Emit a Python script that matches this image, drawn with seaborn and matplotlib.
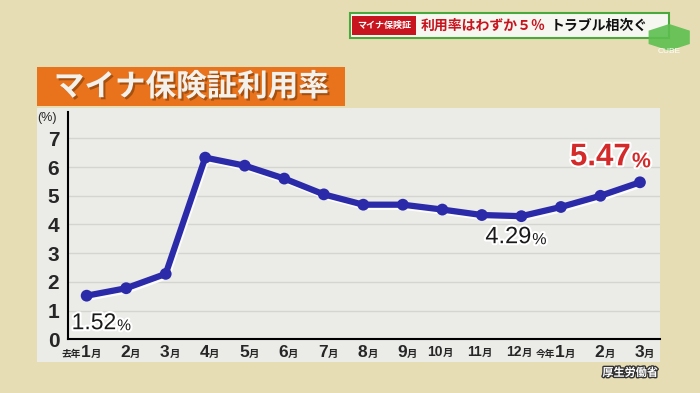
import matplotlib
matplotlib.use("Agg")
import matplotlib.pyplot as plt
import matplotlib.patches as mpatches
import matplotlib.patheffects as pe
import pandas as pd
import seaborn as sns

# データ
months = ["1", "2", "3", "4", "5", "6", "7", "8", "9", "10", "11", "12", "1", "2", "3"]
prefixes = ["去年", "", "", "", "", "", "", "", "", "", "", "", "今年", "", ""]
rates = [1.52, 1.78, 2.28, 6.33, 6.05, 5.60, 5.05, 4.69, 4.69, 4.52, 4.33, 4.29, 4.61, 5.00, 5.47]
y_ticks = [0, 1, 2, 3, 4, 5, 6, 7]

title = "マイナ保険証利用率"
source = "厚生労働省"

df = pd.DataFrame({"idx": range(len(rates)), "rate": rates})

sns.set_style("white")
plt.rcParams["font.family"] = ["Liberation Sans", "Noto Sans CJK JP", "DejaVu Sans"]
JP = ["Noto Sans CJK JP", "DejaVu Sans"]

fig = plt.figure(figsize=(7, 3.93), dpi=100)
fig.patch.set_facecolor("#e7ddb5")

# グラフの背景パネル
fig.add_artist(mpatches.Rectangle((0.053, 0.079), 0.89, 0.646, transform=fig.transFigure,
                                  facecolor="#ebebe8", edgecolor="none", zorder=0))

# タイトルボックス
fig.add_artist(mpatches.Rectangle((0.053, 0.730), 0.44, 0.099, transform=fig.transFigure,
                                  facecolor="#e8731c", edgecolor="none", zorder=1))
fig.text(0.273, 0.779, title, ha="center", va="center", fontsize=22, fontweight="bold",
         color="#f3f1ec", family=JP,
         path_effects=[pe.withSimplePatchShadow(offset=(1.5, -1.5), shadow_rgbFace="#7a3a08", alpha=0.6)])

# 上部のテロップ
fig.add_artist(mpatches.Rectangle((0.500, 0.904), 0.455, 0.062, transform=fig.transFigure,
                                  facecolor="#f7f7f2", edgecolor="#4aa83c", linewidth=1.5, zorder=1))
fig.add_artist(mpatches.Rectangle((0.503, 0.910), 0.091, 0.050, transform=fig.transFigure,
                                  facecolor="#c8141e", edgecolor="none", zorder=2))
fig.text(0.5485, 0.935, "マイナ保険証", ha="center", va="center", fontsize=6.5, fontweight="bold",
         color="white", family=JP, zorder=3)
fig.text(0.601, 0.935, "利用率はわずか５％", ha="left", va="center", fontsize=10, fontweight="bold",
         color="#c8141e", family=JP, zorder=3)
fig.text(0.787, 0.935, "トラブル相次ぐ", ha="left", va="center", fontsize=10, fontweight="bold",
         color="#111111", family=JP, zorder=3)
hexagon = mpatches.RegularPolygon((0.956, 0.905), numVertices=6, radius=0.034,
                                  transform=fig.transFigure, facecolor="#5cbf4f",
                                  edgecolor="none", alpha=0.9, zorder=4)
fig.add_artist(hexagon)
fig.text(0.956, 0.868, "CUBE", ha="center", va="center", fontsize=6, color="white", zorder=5)

# メインのグラフ
ax = fig.add_axes([0.0967, 0.1366, 0.8463, 0.5792])
ax.set_facecolor("none")
sns.lineplot(data=df, x="idx", y="rate", ax=ax, color="#2b2aa8", linewidth=4.5,
             marker="o", markersize=8.5, markeredgewidth=0, zorder=5,
             path_effects=[pe.SimpleLineShadow(offset=(1, -1.5), shadow_color="white", alpha=0.9),
                           pe.Normal()])

ax.set_xlim(-0.48, 14.51)
ax.set_ylim(0, 7.93)
ax.set_xticks(range(len(months)))
ax.set_yticks(y_ticks)
ax.set_yticklabels([str(v) for v in y_ticks], fontsize=15, fontweight="bold")
ax.set_xlabel("")
ax.set_ylabel("")
ax.grid(axis="y", color="#d4d4d0", linewidth=1)
for side in ["top", "right"]:
    ax.spines[side].set_visible(False)
for side in ["left", "bottom"]:
    ax.spines[side].set_color("black")
    ax.spines[side].set_linewidth(1.5)
ax.tick_params(axis="x", direction="in", length=7, width=1.2, color="black", labelbottom=False)
ax.tick_params(axis="y", length=0, pad=6)

# x軸ラベル（数字は大きく、「月」は小さく）
for i, (m, p) in enumerate(zip(months, prefixes)):
    size = 12.5 if len(m) == 1 else 10
    shift = 4 if len(m) == 1 else 0
    num = ax.annotate(m, xy=(i, 0), xycoords=("data", "axes fraction"), xytext=(shift, -6),
                      textcoords="offset pixels", ha="right", va="top", fontsize=size,
                      fontweight="bold")
    ax.annotate("月", xy=(1, 0), xycoords=num, xytext=(0, 1), textcoords="offset pixels",
                ha="left", va="bottom", fontsize=7.5, fontweight="bold", family=JP)
    if p:
        ax.annotate(p, xy=(0, 0), xycoords=num, xytext=(0, 1), textcoords="offset pixels",
                    ha="right", va="bottom", fontsize=7, fontweight="bold", family=JP)

fig.text(0.053, 0.700, "(%)", ha="left", va="center", fontsize=9)

# 値のラベル
glow = [pe.withStroke(linewidth=3, foreground="white")]


def value_label(i, dx, dy, size, color, weight="normal"):
    t = ax.annotate(f"{rates[i]:.2f}", xy=(i, rates[i]), xytext=(dx, dy), textcoords="offset pixels",
                    ha="left", va="center", fontsize=size, color=color, fontweight=weight,
                    path_effects=glow, zorder=6)
    ax.annotate("%", xy=(1, 0), xycoords=t, xytext=(1, 1), textcoords="offset pixels",
                ha="left", va="bottom", fontsize=size * 0.68, color=color, fontweight=weight,
                path_effects=glow, zorder=6)


value_label(0, -15, -27, 16.5, "#1a1a1a")
value_label(11, -36, -21, 17, "#1a1a1a")
value_label(14, -70, 25, 22.5, "#d42a2a", "bold")

fig.text(0.94, 0.052, source, ha="right", va="center", fontsize=8, fontweight="bold",
         color="white", family=JP, path_effects=[pe.withStroke(linewidth=2, foreground="#333333")])

fig.savefig("out.png", dpi=100, facecolor=fig.get_facecolor())
